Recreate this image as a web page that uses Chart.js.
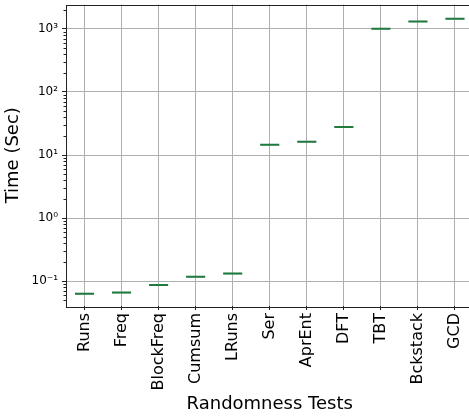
<!DOCTYPE html>
<html>
<head>
<meta charset="utf-8">
<script src="https://cdn.jsdelivr.net/npm/chart.js@4.4.1/dist/chart.umd.min.js"></script>
<style>
  html, body { margin: 0; padding: 0; background: #fff; overflow: hidden; }
  #wrap { width: 469px; height: 417px; overflow: hidden; }
  /* canvas is a bit larger than the page: the axes run past the right edge like the original */
  #chart { margin-top: -7px; display: block; }
</style>
</head>
<body>
<div id="wrap"><canvas id="chart" width="485" height="424"></canvas></div>
<script>
// ------------------------
// Data
// ------------------------
const tests = ['Runs', 'Freq', 'BlockFreq', 'Cumsum', 'LRuns', 'Ser', 'AprEnt', 'DFT', 'TBT', 'Bckstack', 'GCD']
const medians = [0.0636, 0.066, 0.0873, 0.118, 0.132, 14.6, 16.3, 27.8, 1000, 1310, 1450]
const lowerQuartiles = [0.0618, 0.0642, 0.085, 0.115, 0.128, 14.2, 15.8, 27.0, 975, 1275, 1410]
const upperQuartiles = [0.0654, 0.0678, 0.0896, 0.121, 0.136, 15.0, 16.8, 28.6, 1025, 1345, 1490]

const majorTicks = [0.1, 1, 10, 100, 1000]
const tickLabels = ['10⁻¹', '10⁰', '10¹', '10²', '10³']
const yMin = 0.0405
const yMax = 2430

// ------------------------
// Helpers
// ------------------------
const FONT = 'DejaVu Sans'
const GRID = '#b0b0b0'
const SPINE = '#222'

const minorTicks = []
for (const base of [0.01, ...majorTicks]) {
  for (let k = 2; k <= 9; k++) {
    const v = base * k
    if (v >= yMin && v <= yMax) minorTicks.push(v)
  }
}

const isMajor = (v) => majorTicks.includes(v)

// axes frame + short minor ticks on the log axis
const frame = {
  id: 'frame',
  afterDraw(chart) {
    const { ctx, chartArea: a } = chart
    const y = chart.scales.y
    ctx.save()
    ctx.strokeStyle = SPINE
    ctx.lineWidth = 1
    ctx.beginPath()
    minorTicks.forEach((v) => {
      const py = Math.round(y.getPixelForValue(v)) + 0.5
      ctx.moveTo(a.left - 2.5, py)
      ctx.lineTo(a.left, py)
    })
    ctx.stroke()
    ctx.strokeRect(Math.round(a.left) + 0.5, Math.round(a.top) + 0.5,
      Math.round(a.right - a.left), Math.round(a.bottom - a.top))
    ctx.restore()
  },
}

const element = document.querySelector('#chart')

new Chart(element, {
  type: 'bar',

  data: {
    labels: tests,
    datasets: [
      {
        type: 'bar',
        data: tests.map((_, i) => [lowerQuartiles[i], upperQuartiles[i]]),
        backgroundColor: 'rgba(160, 205, 225, 0.5)',
        borderColor: '#6a9cb8',
        borderWidth: 1,
        borderSkipped: false,
        barPercentage: 0.52,
        categoryPercentage: 1,
        order: 2,
      },
      {
        type: 'line',
        data: medians,
        showLine: false,
        pointStyle: 'line',
        pointRadius: 9.5,
        pointBorderWidth: 2,
        pointBorderColor: '#1f7a3c',
        pointBackgroundColor: '#1f7a3c',
        order: 1,
      },
    ],
  },

  options: {
    responsive: false,
    animation: false,
    devicePixelRatio: 1,

    layout: {
      padding: { top: 6, right: 3.5, left: 0, bottom: 0 },
    },

    plugins: {
      legend: { display: false },
      tooltip: { enabled: false },
    },

    scales: {
      x: {
        offset: true,
        grid: {
          color: GRID,
          offset: false,
          tickLength: 4,
          tickColor: SPINE,
        },
        border: { display: false },
        ticks: {
          autoSkip: false,
          maxRotation: 90,
          minRotation: 90,
          padding: 3,
          color: '#000',
          font: { family: FONT, size: 16 },
        },
        title: {
          display: true,
          text: 'Randomness Tests',
          color: '#000',
          font: { family: FONT, size: 18 },
          padding: { top: 2, bottom: 2 },
        },
        afterFit: (scale) => {
          scale.height = 111
        },
      },

      y: {
        type: 'logarithmic',
        min: yMin,
        max: yMax,
        afterBuildTicks: (scale) => {
          scale.ticks = majorTicks.map((value) => ({ value, major: true }))
        },
        grid: {
          color: (ctx) => (ctx.tick && isMajor(ctx.tick.value) ? GRID : 'transparent'),
          tickLength: 4,
          tickColor: SPINE,
        },
        border: { display: false },
        ticks: {
          autoSkip: false,
          padding: 4,
          color: '#000',
          font: { family: FONT, size: 12 },
          callback: (value) => {
            const i = majorTicks.indexOf(value)
            return i >= 0 ? tickLabels[i] : ''
          },
        },
        title: {
          display: true,
          text: 'Time (Sec)',
          color: '#000',
          font: { family: FONT, size: 18 },
          padding: { top: 3, bottom: 3 },
        },
        afterFit: (scale) => {
          scale.width = 66
        },
      },
    },
  },

  plugins: [frame],
})
</script>
</body>
</html>
